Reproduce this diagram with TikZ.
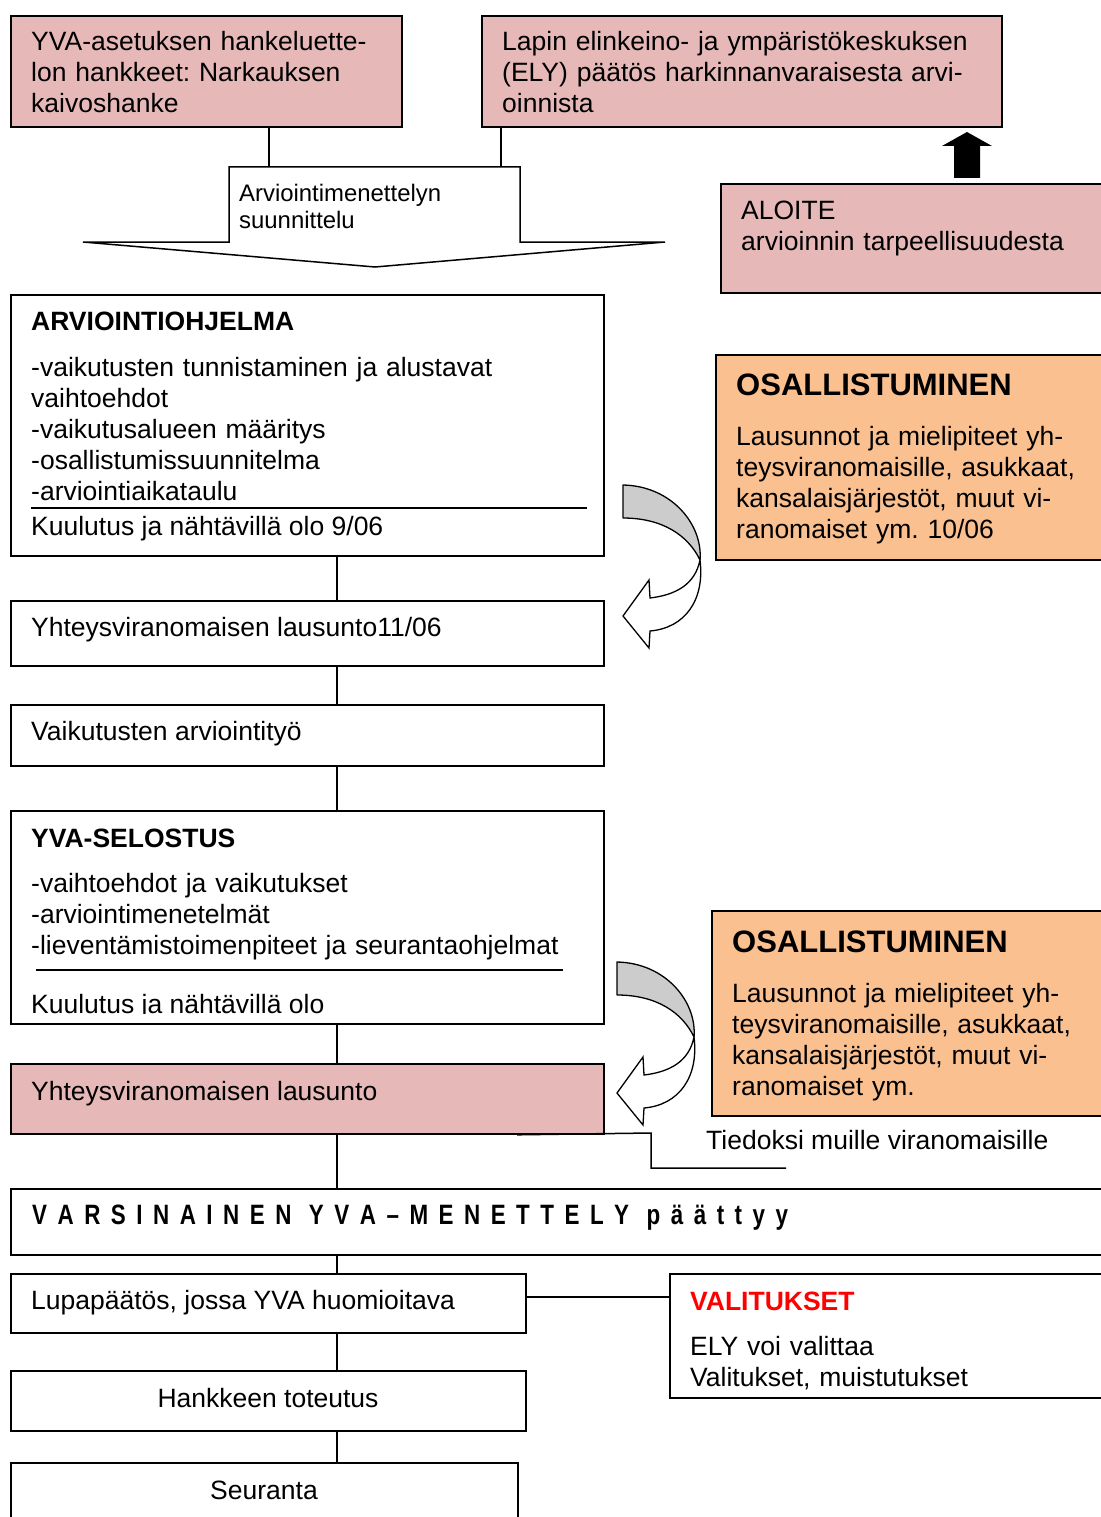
\documentclass[tikz,border=0pt]{standalone}
\usepackage{fontspec}
\setmainfont{Liberation Sans}
\newfontfamily\narrowbold[FakeStretch=0.8]{Liberation Sans Bold}
\frenchspacing
\def\spc#1{\ifx#1\relax\else#1\hspace{10.5pt}\expandafter\spc\fi}
\definecolor{pinkf}{HTML}{E6B9B8}
\definecolor{orangef}{HTML}{FAC090}
\definecolor{grayf}{HTML}{CCCCCC}
\definecolor{valred}{HTML}{FF0000}
\tikzset{
  box/.style={draw, line width=1.8pt, rectangle, inner sep=0pt, anchor=north west},
  conn/.style={line width=1.5pt},
  txt/.style={anchor=base west, inner sep=0pt, font=\fontsize{26.5}{31}\selectfont},
  mtxt/.style={txt, text width=620pt, align=left},
  ttl/.style={anchor=base west, inner sep=0pt, font=\fontsize{26.5}{31}\selectfont\bfseries},
  bigttl/.style={anchor=base west, inner sep=0pt, font=\fontsize{31}{36}\selectfont\bfseries},
  smalltxt/.style={anchor=base west, inner sep=0pt, text width=300pt, align=left, font=\fontsize{23.9}{27}\selectfont},
  curvarr/.pic={
    \filldraw[fill=grayf, line width=1.3pt, line join=round]
      (0,0) .. controls (49,1) and (80,40) .. (77,75)
      .. controls (65,50) and (39,33) .. (0,33) -- cycle;
    \filldraw[fill=white, line width=1.3pt, line join=miter]
      (77,75) .. controls (72,100) and (52,110) .. (27,113)
      -- (26,95) -- (0,131) -- (26,163) -- (27,146)
      .. controls (62,143) and (82,115) .. (77,75) -- cycle;
  }
}
\begin{document}
\begin{tikzpicture}[x=1pt,y=-1pt]
\path[use as bounding box, fill=white] (0,0) rectangle (1100,1517);

% top boxes
\node[box, fill=pinkf, minimum width=391pt, minimum height=111pt] (A) at (10,15) {};
\node[box, fill=pinkf, minimum width=520pt, minimum height=111pt] (B) at (481,15) {};
\node[mtxt] (Atx) at (31,51) {YVA-asetuksen hankeluette-\\lon hankkeet: Narkauksen\\kaivoshanke};
\node[mtxt] (Btx) at (502,51) {Lapin elinkeino- ja ympäristökeskuksen\\(ELY) päätös harkinnanvaraisesta arvi-\\oinnista};

% block arrow
\coordinate (baL) at (269,167);
\coordinate (baR) at (501,167);
\draw[conn] (A.south -| baL) -- (baL);
\draw[conn] (B.south -| baR) -- (baR);
\filldraw[fill=white, line width=1.5pt, line join=miter]
  (229,242) -- (229,167) -- (520,167) -- (520,242) -- (665,242) -- (375,267) -- (83,242) -- cycle;
\node[smalltxt] (batx) at (239,201) {Arviointimenettelyn\\suunnittelu};

% ALOITE
\node[box, fill=pinkf, minimum width=390pt, minimum height=109pt] (ALO) at (720,183) {};
\node[mtxt] (ALOtx) at (741,219) {ALOITE\\arvioinnin tarpeellisuudesta};
\fill (954,178) -- (980,178) -- (980,146) -- (992,146) -- (967,132) -- (942,146) -- (954,146) -- cycle;

% ARVIOINTIOHJELMA
\node[box, fill=white, minimum width=593pt, minimum height=261pt] (ARV) at (10,294) {};
\node[ttl] (ARVt) at (31,330) {ARVIOINTIOHJELMA};
\node[mtxt] (ARVtx) at (31,376) {-vaikutusten tunnistaminen ja alustavat\\vaihtoehdot\\-vaikutusalueen määritys\\-osallistumissuunnitelma\\-arviointiaikataulu};
\draw[line width=1.8pt] (31,508) -- (587,508);
\node[txt] (ARVk) at (31,535) {Kuulutus ja nähtävillä olo 9/06};

% OSALLISTUMINEN 1
\node[box, fill=orangef, minimum width=395pt, minimum height=205pt] (OS1) at (715,354) {};
\node[bigttl] (OS1t) at (736,395) {OSALLISTUMINEN};
\node[mtxt] (OS1tx) at (736,445) {Lausunnot ja mielipiteet yh-\\teysviranomaisille, asukkaat,\\kansalaisjärjestöt, muut vi-\\ranomaiset ym. 10/06};
\pic (ca1) at (623,485) {curvarr};

% Yhteysviranomaisen lausunto 11/06
\node[box, fill=white, minimum width=593pt, minimum height=65pt] (Y1) at (10,600) {};
\node[txt] (Y1tx) at (31,636) {Yhteysviranomaisen lausunto11/06};
\draw[conn] (ARV.south -| 337,0) -- (Y1.north -| 337,0);

% Vaikutusten arviointityö
\node[box, fill=white, minimum width=593pt, minimum height=61pt] (VA) at (10,704) {};
\node[txt] (VAtx) at (31,740) {Vaikutusten arviointityö};
\draw[conn] (Y1.south -| 337,0) -- (VA.north -| 337,0);

% YVA-SELOSTUS
\node[box, fill=white, minimum width=593pt, minimum height=213pt] (YS) at (10,810) {};
\node[ttl] (YSt) at (31,847) {YVA-SELOSTUS};
\node[mtxt] (YStx) at (31,892) {-vaihtoehdot ja vaikutukset\\-arviointimenetelmät\\-lieventämistoimenpiteet ja seurantaohjelmat};
\draw[line width=1.8pt] (36,970) -- (563,970);
\begin{scope}
  \clip (12,985) rectangle (600,1013);
  \node[txt] (YSk) at (31,1013.5) {Kuulutus ja nähtävillä olo};
\end{scope}
\draw[conn] (VA.south -| 337,0) -- (YS.north -| 337,0);

% OSALLISTUMINEN 2
\node[box, fill=orangef, minimum width=399pt, minimum height=205pt] (OS2) at (711,910) {};
\node[bigttl] (OS2t) at (732,952) {OSALLISTUMINEN};
\node[mtxt] (OS2tx) at (732,1002) {Lausunnot ja mielipiteet yh-\\teysviranomaisille, asukkaat,\\kansalaisjärjestöt, muut vi-\\ranomaiset ym.};
\pic (ca2) at (617,962) {curvarr};

% Yhteysviranomaisen lausunto (pink)
\node[box, fill=pinkf, minimum width=593pt, minimum height=70pt] (Y2) at (10,1063) {};
\node[txt] (Y2tx) at (31,1100) {Yhteysviranomaisen lausunto};
\draw[conn] (YS.south -| 337,0) -- (Y2.north -| 337,0);

% Tiedoksi
\draw[conn] (Y2.south -| 517,0) -- (651,1133) -- (651,1168) -- (786,1168);
\node[txt] (Tie) at (706,1149) {Tiedoksi muille viranomaisille};

% VARSINAINEN
\node[box, fill=white, minimum width=1100pt, minimum height=66pt] (VR) at (10,1188) {};
\node[anchor=base west, inner sep=0pt, font=\narrowbold\fontsize{28}{31}\selectfont] (VRtx) at (32,1224)
  {\spc VARSINAINEN\relax\hspace{7pt}\spc YVA–MENETTELY\relax\hspace{7pt}\spc päättyy\relax};
\draw[conn] (Y2.south -| 337,0) -- (VR.north -| 337,0);

% Lupapäätös
\node[box, fill=white, minimum width=515pt, minimum height=59pt] (LU) at (10,1273) {};
\node[txt] (LUtx) at (31,1309) {Lupapäätös, jossa YVA huomioitava};
\draw[conn] (VR.south -| 337,0) -- (LU.north -| 337,0);

% VALITUKSET
\node[box, fill=white, minimum width=441pt, minimum height=124pt] (VAL) at (669,1273) {};
\node[ttl, text=valred] (VALt) at (690,1310) {VALITUKSET};
\node[mtxt] (VALtx) at (690,1355) {ELY voi valittaa\\Valitukset, muistutukset};
\draw[conn] (LU.east |- 0,1297) -- (VAL.west |- 0,1297);

% Hankkeen toteutus
\node[box, fill=white, minimum width=515pt, minimum height=60pt] (HT) at (10,1370) {};
\node[anchor=base, inner sep=0pt, font=\fontsize{26.5}{31}\selectfont] (HTtx) at (268,1407) {Hankkeen toteutus};
\draw[conn] (LU.south -| 337,0) -- (HT.north -| 337,0);

% Seuranta
\node[box, fill=white, minimum width=507pt, minimum height=68pt] (SE) at (10,1462) {};
\node[anchor=base, inner sep=0pt, font=\fontsize{26.5}{31}\selectfont] (SEtx) at (264,1499) {Seuranta};
\draw[conn] (HT.south -| 337,0) -- (SE.north -| 337,0);
\end{tikzpicture}
\end{document}
